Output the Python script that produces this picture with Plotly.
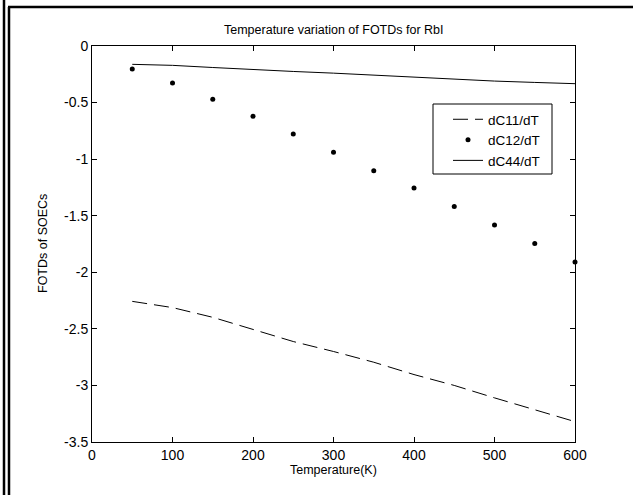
import plotly.graph_objects as go

T = [50, 100, 150, 200, 250, 300, 350, 400, 450, 500, 550, 600]
dC11 = [-2.257, -2.312, -2.398, -2.507, -2.612, -2.700, -2.795, -2.904, -3.000, -3.110, -3.213, -3.320]
dC12 = [-0.203, -0.327, -0.470, -0.620, -0.777, -0.940, -1.103, -1.255, -1.418, -1.583, -1.745, -1.909]
dC44 = [-0.162, -0.171, -0.190, -0.210, -0.225, -0.240, -0.257, -0.278, -0.296, -0.310, -0.322, -0.333]

xticks = [0, 100, 200, 300, 400, 500, 600]
yticks = [0, -0.5, -1, -1.5, -2, -2.5, -3, -3.5]
ytext = ["0", "-0.5", "-1", "-1.5", "-2", "-2.5", "-3", "-3.5"]

W, H = 633, 495
L, R, TP, B = 92, 575, 46, 442
FONT = "Liberation Sans, Arial, sans-serif"

def px(x):
    return (x - L) / (R - L)

def py(y):
    return (B - y) / (B - TP)

fig = go.Figure()
fig.add_trace(go.Scatter(x=T, y=dC11, mode="lines", name="dC11/dT",
                         line=dict(color="black", width=1, dash="15px,7px")))
fig.add_trace(go.Scatter(x=T, y=dC12, mode="markers", name="dC12/dT", cliponaxis=False,
                         marker=dict(color="black", size=5)))
fig.add_trace(go.Scatter(x=T, y=dC44, mode="lines", name="dC44/dT",
                         line=dict(color="black", width=1)))

axis_common = dict(showline=True, linecolor="black", linewidth=1, mirror="ticks",
                   ticks="inside", ticklen=5, tickcolor="black", showgrid=False,
                   zeroline=False, tickfont=dict(family=FONT, size=14, color="black"))

fig.update_xaxes(range=[0, 600], tickvals=xticks, ticktext=[str(v) for v in xticks], **axis_common)
fig.update_yaxes(range=[-3.5, 0], tickvals=yticks, ticktext=ytext, **axis_common)

fig.update_layout(
    width=W, height=H,
    margin=dict(l=L, r=W - R, t=TP, b=H - B, autoexpand=False),
    paper_bgcolor="white", plot_bgcolor="white",
    showlegend=True,
    legend=dict(x=px(448), y=py(104), xanchor="left", yanchor="top",
                borderwidth=0, bgcolor="rgba(0,0,0,0)",
                font=dict(family=FONT, size=13.5, color="black"),
                tracegroupgap=0, itemwidth=30),
    annotations=[
        dict(text="Temperature variation of FOTDs for RbI", x=0.5, y=py(30), xref="paper", yref="paper",
             showarrow=False, font=dict(family=FONT, size=12.5, color="black"), xanchor="center", yanchor="middle"),
        dict(text="Temperature(K)", x=0.5, y=py(470), xref="paper", yref="paper",
             showarrow=False, font=dict(family=FONT, size=12.5, color="black"), xanchor="center", yanchor="middle"),
        dict(text="FOTDs of SOECs", x=px(43), y=0.5, xref="paper", yref="paper", textangle=-90,
             showarrow=False, font=dict(family=FONT, size=12.5, color="black"), xanchor="center", yanchor="middle"),
    ],
    shapes=[
        dict(type="rect", xref="paper", yref="paper", x0=px(433), x1=px(552), y0=py(104), y1=py(174),
             line=dict(color="black", width=1), layer="above"),
        dict(type="line", xref="paper", yref="paper", x0=px(4), x1=px(4), y0=py(0), y1=py(495),
             line=dict(color="black", width=2.5)),
        dict(type="line", xref="paper", yref="paper", x0=px(9), x1=px(9), y0=py(7), y1=py(495),
             line=dict(color="black", width=2.5)),
        dict(type="line", xref="paper", yref="paper", x0=px(8), x1=px(633), y0=py(7), y1=py(7),
             line=dict(color="black", width=2.5)),
    ],
)

fig.write_html("out.html", config={"displayModeBar": False},
               post_script="document.body.style.margin='0';document.body.style.overflow='hidden';")
